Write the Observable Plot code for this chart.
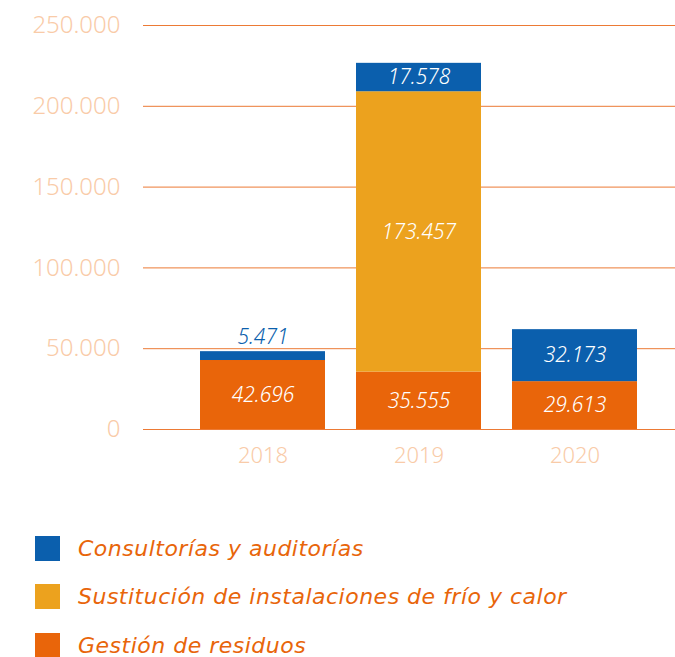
<!DOCTYPE html>
<html><head><meta charset="utf-8">
<script src="https://cdn.jsdelivr.net/npm/d3@7"></script>
<script src="https://cdn.jsdelivr.net/npm/@observablehq/plot@0.6"></script>
<style>
body{margin:0;background:#fff;font-family:"Noto Sans",sans-serif;}
#legend{margin-top:44px;}
.row{display:flex;align-items:center;height:48.5px;padding-left:35px;}
.sw{width:25px;height:25px;margin-right:18px;}
.lab{font-family:"DejaVu Sans",sans-serif;font-style:italic;font-size:22px;color:#E8650A;font-weight:normal;letter-spacing:0.5px;}
</style></head><body>
<div id="chart"></div>
<div id="legend"></div>
<script>
const years = ["2018","2019","2020"];
const categories = ["Gestión de residuos","Sustitución de instalaciones de frío y calor","Consultorías y auditorías"];
const colors = ["#E9650A","#ECA21E","#0B5FAD"];
const residuos = [42696, 35555, 29613];
const sustitucion = [0, 173457, 0];
const consultorias = [5471, 17578, 32173];
const yTicks = [0,50000,100000,150000,200000,250000];
const legendOrder = ["Consultorías y auditorías","Sustitución de instalaciones de frío y calor","Gestión de residuos"];

const series = [residuos, sustitucion, consultorias];
const data = [];
years.forEach((y,i)=>categories.forEach((c,j)=>{ if(series[j][i]>0) data.push({year:y, category:c, value:series[j][i]}); }));

const loc = d3.formatLocale({decimal:",", thousands:".", grouping:[3], currency:["","€"]});
const fmt = loc.format(",d");

const chart = Plot.plot({
  width:675, height:480,
  marginLeft:143, marginRight:0, marginTop:25, marginBottom:51,
  style:{fontFamily:"Noto Sans, sans-serif", background:"#fff"},
  x:{domain:years, range:[199,637], paddingInner:0.2, paddingOuter:0, label:null},
  y:{domain:[0,250000], label:null},
  color:{domain:categories, range:colors},
  marks:[
    Plot.ruleY(yTicks,{stroke:"#EC7A35", strokeWidth:1}),
    Plot.barY(data, Plot.stackY({x:"year", y:"value", fill:"category", order:categories})),
    Plot.text(data, Plot.stackY({x:"year", y:"value", z:"category", order:categories,
      text:d=>d.value>=10000?fmt(d.value):"", fill:"#fff", fontSize:21, fontStyle:"italic", fontWeight:300})),
    Plot.text(data, Plot.stackY2({x:"year", y:"value", z:"category", order:categories,
      text:d=>d.value<10000?fmt(d.value):"", fill:"#0B5FAD", fontSize:21, fontStyle:"italic", fontWeight:300, dy:-14})),
    Plot.axisY({ticks:yTicks, tickFormat:fmt, tickSize:0, tickPadding:23, fontSize:24, fill:"#F9CBA8", fontWeight:300, label:null}),
    Plot.axisX({tickSize:0, tickPadding:18, fontSize:22, fill:"#F9CBA8", fontWeight:300, label:null})
  ]
});
document.getElementById("chart").appendChild(chart);

const leg = document.getElementById("legend");
legendOrder.forEach(c=>{
  const r=document.createElement("div"); r.className="row";
  const s=document.createElement("div"); s.className="sw"; s.style.background=colors[categories.indexOf(c)];
  const t=document.createElement("span"); t.className="lab"; t.textContent=c;
  r.appendChild(s); r.appendChild(t); leg.appendChild(r);
});
</script></body></html>
